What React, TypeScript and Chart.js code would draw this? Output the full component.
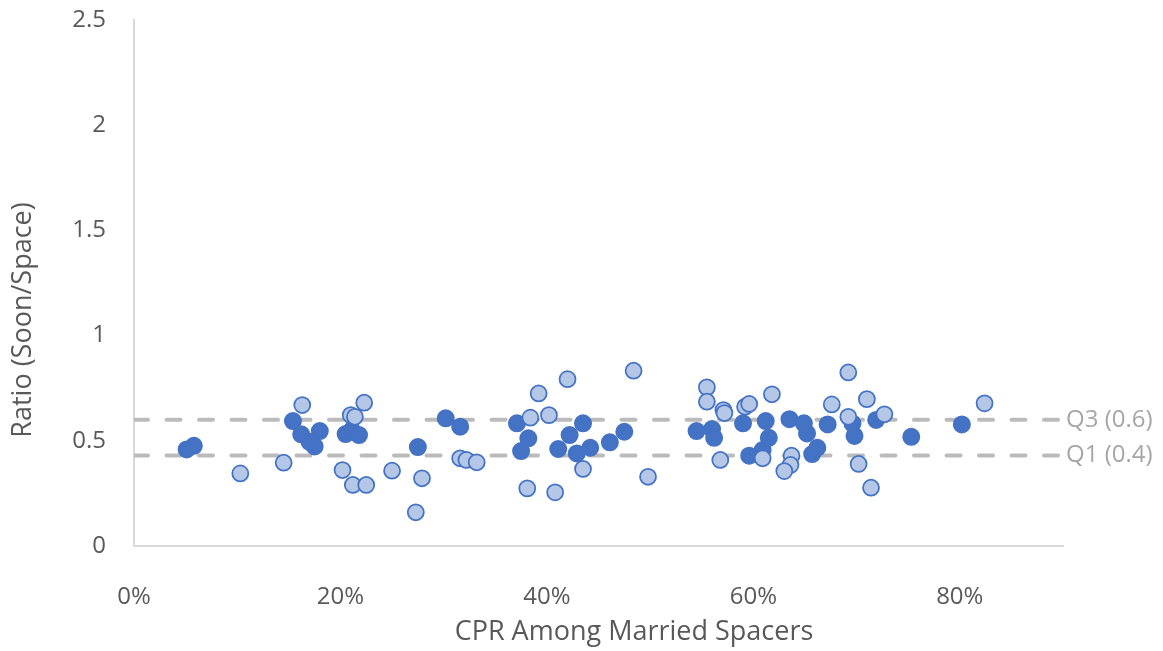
import React, { useEffect, useRef } from "react";
import { Chart, registerables } from "chart.js";

Chart.register(...registerables);

// CPR among married spacers (x) vs. ratio soon/space (y)
const darkX = [0.051, 0.058, 0.154, 0.162, 0.180, 0.175, 0.170, 0.205, 0.211, 0.218, 0.275, 0.302, 0.316, 0.371, 0.382, 0.375, 0.411, 0.422, 0.435, 0.429, 0.442, 0.461, 0.475, 0.545, 0.560, 0.562, 0.590, 0.596, 0.609, 0.612, 0.615, 0.635, 0.649, 0.652, 0.657, 0.662, 0.672, 0.696, 0.698, 0.719, 0.753, 0.802];
const darkY = [0.459, 0.476, 0.594, 0.531, 0.546, 0.473, 0.495, 0.532, 0.551, 0.527, 0.470, 0.607, 0.567, 0.583, 0.512, 0.451, 0.461, 0.527, 0.583, 0.440, 0.467, 0.493, 0.543, 0.546, 0.556, 0.514, 0.583, 0.429, 0.456, 0.594, 0.514, 0.603, 0.583, 0.535, 0.437, 0.467, 0.578, 0.583, 0.523, 0.599, 0.519, 0.578];

const lightX = [0.103, 0.145, 0.163, 0.223, 0.210, 0.214, 0.202, 0.212, 0.225, 0.250, 0.279, 0.273, 0.316, 0.322, 0.332, 0.384, 0.392, 0.420, 0.402, 0.435, 0.381, 0.408, 0.484, 0.498, 0.555, 0.555, 0.571, 0.572, 0.568, 0.592, 0.596, 0.618, 0.609, 0.637, 0.636, 0.630, 0.676, 0.692, 0.692, 0.710, 0.727, 0.702, 0.714, 0.824];
const lightY = [0.345, 0.396, 0.670, 0.681, 0.622, 0.614, 0.361, 0.290, 0.290, 0.358, 0.322, 0.160, 0.417, 0.409, 0.398, 0.610, 0.725, 0.793, 0.622, 0.366, 0.274, 0.255, 0.833, 0.329, 0.754, 0.686, 0.646, 0.632, 0.409, 0.662, 0.675, 0.721, 0.417, 0.429, 0.385, 0.356, 0.673, 0.825, 0.614, 0.698, 0.626, 0.390, 0.277, 0.678];

const q3Value = 0.6;
const q1Value = 0.43;
const q3Label = "Q3 (0.6)";
const q1Label = "Q1 (0.4)";
const xTickValues = [0, 0.2, 0.4, 0.6, 0.8];
const xMax = 0.9;
const yTickStep = 0.5;
const yMax = 2.5;
const xTitle = "CPR Among Married Spacers";
const yTitle = "Ratio (Soon/Space)";

const FONT = '"Open Sans", "Noto Sans", sans-serif';

export default function App() {
  const canvasRef = useRef<HTMLCanvasElement | null>(null);

  useEffect(() => {
    const canvas = canvasRef.current;
    if (!canvas) return;

    const overlay = {
      id: "overlayText",
      afterDraw(chart: any) {
        const { ctx, chartArea, scales } = chart;
        ctx.save();
        ctx.fillStyle = "#595959";
        ctx.font = `27px ${FONT}`;
        ctx.textAlign = "center";
        ctx.textBaseline = "middle";
        ctx.fillText(xTitle, 634, 632);
        ctx.translate(23, 320);
        ctx.rotate(-Math.PI / 2);
        ctx.fillText(yTitle, 0, 0);
        ctx.restore();

        ctx.save();
        ctx.fillStyle = "#A6A6A6";
        ctx.font = `24px ${FONT}`;
        ctx.textAlign = "left";
        ctx.textBaseline = "middle";
        ctx.fillText(q3Label, chartArea.right + 3, scales.y.getPixelForValue(q3Value));
        ctx.fillText(q1Label, chartArea.right + 3, scales.y.getPixelForValue(q1Value));
        ctx.restore();
      },
    };

    const dashStyle = {
      showLine: true,
      borderColor: "#BBBBBB",
      borderWidth: 4,
      borderDash: [14, 18.5],
      borderCapStyle: "round" as const,
      pointRadius: 0,
      fill: false,
    };

    const chart = new Chart(canvas, {
      type: "scatter",
      data: {
        datasets: [
          {
            label: "light",
            data: lightX.map((x, i) => ({ x, y: lightY[i] })),
            backgroundColor: "#B4C7E7",
            borderColor: "#4472C4",
            borderWidth: 1.75,
            pointRadius: 8,
            order: 0,
          },
          {
            label: "dark",
            data: darkX.map((x, i) => ({ x, y: darkY[i] })),
            backgroundColor: "#4472C4",
            borderColor: "#4472C4",
            borderWidth: 1.5,
            pointRadius: 8.25,
            order: 1,
          },
          {
            label: "Q3",
            data: [
              { x: 0, y: q3Value },
              { x: xMax, y: q3Value },
            ],
            ...dashStyle,
            order: 2,
          } as any,
          {
            label: "Q1",
            data: [
              { x: 0, y: q1Value },
              { x: xMax, y: q1Value },
            ],
            ...dashStyle,
            order: 3,
          } as any,
        ],
      },
      options: {
        responsive: false,
        devicePixelRatio: 1,
        animation: false,
        layout: { padding: { left: 0, right: 100, top: 0, bottom: 0 } },
        plugins: {
          legend: { display: false },
          tooltip: { enabled: false },
        },
        scales: {
          x: {
            type: "linear",
            min: 0,
            max: xMax,
            afterBuildTicks(scale: any) {
              scale.ticks = xTickValues.map((v) => ({ value: v }));
            },
            afterFit(scale: any) {
              scale.height = 105;
              scale.paddingLeft = 0;
              scale.paddingRight = 0;
            },
            grid: { display: false, drawTicks: false },
            border: { display: true, color: "#D9D9D9", width: 2 },
            ticks: {
              padding: 37,
              color: "#595959",
              font: { family: FONT, size: 24 },
              callback: (v: any) => `${Math.round(Number(v) * 100)}%`,
              maxRotation: 0,
            },
          },
          y: {
            type: "linear",
            min: 0,
            max: yMax,
            afterFit(scale: any) {
              scale.width = 134;
              scale.paddingTop = 20;
              scale.paddingBottom = 0;
            },
            grid: { display: false, drawTicks: false },
            border: { display: true, color: "#D9D9D9", width: 2 },
            ticks: {
              stepSize: yTickStep,
              padding: 28,
              color: "#595959",
              font: { family: FONT, size: 24 },
              callback: (v: any) => String(v),
            },
          },
        },
      },
      plugins: [overlay],
    });

    return () => chart.destroy();
  }, []);

  return (
    <div style={{ position: "fixed", left: 0, top: 0, width: 1163, height: 651, background: "#fff" }}>
      <canvas ref={canvasRef} width={1163} height={651} style={{ width: 1163, height: 651 }} />
    </div>
  );
}
